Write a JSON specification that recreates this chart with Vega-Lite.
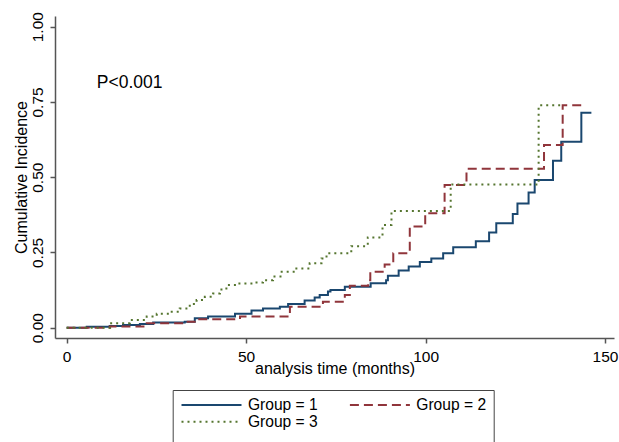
{
  "$schema": "https://vega.github.io/schema/vega-lite/v6.json",
  "width": 559,
  "height": 322,
  "autosize": {"type": "none"},
  "padding": {"left": 55, "top": 16, "right": 5, "bottom": 104},
  "background": "white",
  "config": {
    "view": {"stroke": null},
    "font": "Liberation Sans",
    "axis": {"grid": false, "domainColor": "#555555", "tickColor": "#555555", "domainWidth": 1.5, "tickWidth": 1.5, "labelColor": "black", "titleColor": "black", "labelFont": "Liberation Sans", "titleFont": "Liberation Sans", "titleFontWeight": "normal"}
  },
  "layer": [
    {
      "data": {
        "values": [
          {"g": "Group = 1", "t": 0, "v": 0},
          {"g": "Group = 1", "t": 5.6, "v": 0.003},
          {"g": "Group = 1", "t": 12, "v": 0.006},
          {"g": "Group = 1", "t": 15.7, "v": 0.009},
          {"g": "Group = 1", "t": 20.4, "v": 0.012},
          {"g": "Group = 1", "t": 24.1, "v": 0.017},
          {"g": "Group = 1", "t": 32.9, "v": 0.02},
          {"g": "Group = 1", "t": 35.7, "v": 0.031},
          {"g": "Group = 1", "t": 39.4, "v": 0.037},
          {"g": "Group = 1", "t": 46.9, "v": 0.046},
          {"g": "Group = 1", "t": 51.5, "v": 0.057},
          {"g": "Group = 1", "t": 54.7, "v": 0.064},
          {"g": "Group = 1", "t": 59.4, "v": 0.07},
          {"g": "Group = 1", "t": 61.7, "v": 0.079},
          {"g": "Group = 1", "t": 66.3, "v": 0.09},
          {"g": "Group = 1", "t": 69.1, "v": 0.1},
          {"g": "Group = 1", "t": 70.5, "v": 0.109},
          {"g": "Group = 1", "t": 72.8, "v": 0.12},
          {"g": "Group = 1", "t": 73.5, "v": 0.125},
          {"g": "Group = 1", "t": 77.5, "v": 0.136},
          {"g": "Group = 1", "t": 84.7, "v": 0.148},
          {"g": "Group = 1", "t": 89, "v": 0.158},
          {"g": "Group = 1", "t": 89.5, "v": 0.173},
          {"g": "Group = 1", "t": 92.5, "v": 0.19},
          {"g": "Group = 1", "t": 95.3, "v": 0.203},
          {"g": "Group = 1", "t": 98.4, "v": 0.218},
          {"g": "Group = 1", "t": 101.6, "v": 0.23},
          {"g": "Group = 1", "t": 104.9, "v": 0.247},
          {"g": "Group = 1", "t": 107.7, "v": 0.267},
          {"g": "Group = 1", "t": 114, "v": 0.287},
          {"g": "Group = 1", "t": 117.7, "v": 0.316},
          {"g": "Group = 1", "t": 119.7, "v": 0.347},
          {"g": "Group = 1", "t": 124.3, "v": 0.378},
          {"g": "Group = 1", "t": 125.6, "v": 0.413},
          {"g": "Group = 1", "t": 128.7, "v": 0.449},
          {"g": "Group = 1", "t": 130.4, "v": 0.491},
          {"g": "Group = 1", "t": 135.5, "v": 0.555},
          {"g": "Group = 1", "t": 137.8, "v": 0.618},
          {"g": "Group = 1", "t": 143.4, "v": 0.714},
          {"g": "Group = 1", "t": 146.2, "v": 0.714},
          {"g": "Group = 2", "t": 0, "v": 0},
          {"g": "Group = 2", "t": 12, "v": 0.004},
          {"g": "Group = 2", "t": 22.3, "v": 0.015},
          {"g": "Group = 2", "t": 32.9, "v": 0.02},
          {"g": "Group = 2", "t": 36.2, "v": 0.028},
          {"g": "Group = 2", "t": 48.3, "v": 0.037},
          {"g": "Group = 2", "t": 62.2, "v": 0.07},
          {"g": "Group = 2", "t": 71.4, "v": 0.086},
          {"g": "Group = 2", "t": 77.5, "v": 0.109},
          {"g": "Group = 2", "t": 78.9, "v": 0.139},
          {"g": "Group = 2", "t": 84, "v": 0.158},
          {"g": "Group = 2", "t": 84.6, "v": 0.186},
          {"g": "Group = 2", "t": 88.6, "v": 0.21},
          {"g": "Group = 2", "t": 91, "v": 0.247},
          {"g": "Group = 2", "t": 95.6, "v": 0.336},
          {"g": "Group = 2", "t": 99.9, "v": 0.38},
          {"g": "Group = 2", "t": 105.3, "v": 0.474},
          {"g": "Group = 2", "t": 111.4, "v": 0.528},
          {"g": "Group = 2", "t": 133, "v": 0.607},
          {"g": "Group = 2", "t": 138.2, "v": 0.739},
          {"g": "Group = 2", "t": 143.8, "v": 0.739},
          {"g": "Group = 3", "t": 0, "v": 0},
          {"g": "Group = 3", "t": 12.1, "v": 0.015},
          {"g": "Group = 3", "t": 17.6, "v": 0.026},
          {"g": "Group = 3", "t": 22.3, "v": 0.037},
          {"g": "Group = 3", "t": 25.1, "v": 0.046},
          {"g": "Group = 3", "t": 28.8, "v": 0.053},
          {"g": "Group = 3", "t": 31.5, "v": 0.064},
          {"g": "Group = 3", "t": 34.3, "v": 0.079},
          {"g": "Group = 3", "t": 36.2, "v": 0.092},
          {"g": "Group = 3", "t": 38.5, "v": 0.103},
          {"g": "Group = 3", "t": 40.8, "v": 0.114},
          {"g": "Group = 3", "t": 42.7, "v": 0.127},
          {"g": "Group = 3", "t": 44.5, "v": 0.142},
          {"g": "Group = 3", "t": 47.3, "v": 0.147},
          {"g": "Group = 3", "t": 52, "v": 0.15},
          {"g": "Group = 3", "t": 54.7, "v": 0.158},
          {"g": "Group = 3", "t": 57.5, "v": 0.17},
          {"g": "Group = 3", "t": 59.9, "v": 0.186},
          {"g": "Group = 3", "t": 64, "v": 0.197},
          {"g": "Group = 3", "t": 67.7, "v": 0.214},
          {"g": "Group = 3", "t": 71, "v": 0.23},
          {"g": "Group = 3", "t": 72.4, "v": 0.247},
          {"g": "Group = 3", "t": 79.3, "v": 0.271},
          {"g": "Group = 3", "t": 83.9, "v": 0.3},
          {"g": "Group = 3", "t": 88, "v": 0.341},
          {"g": "Group = 3", "t": 90.5, "v": 0.388},
          {"g": "Group = 3", "t": 107, "v": 0.476},
          {"g": "Group = 3", "t": 131.5, "v": 0.739},
          {"g": "Group = 3", "t": 137.5, "v": 0.739}
        ]
      },
      "mark": {"type": "line", "interpolate": "step-after", "strokeWidth": 2, "strokeCap": "butt"},
      "encoding": {
        "x": {
          "field": "t", "type": "quantitative",
          "scale": {"domain": [-3.25, 152.5], "nice": false, "zero": false},
          "axis": {"values": [0, 50, 100, 150], "title": "analysis time (months)", "labelFontSize": 15.5, "titleFontSize": 16, "tickSize": 5, "labelPadding": 6, "titlePadding": -4, "labelFlush": false}
        },
        "y": {
          "field": "v", "type": "quantitative",
          "scale": {"domain": [-0.0342, 1.0355], "nice": false, "zero": false},
          "axis": {"values": [0, 0.25, 0.5, 0.75, 1], "format": ".2f", "labelAngle": -90, "labelAlign": "center", "labelBaseline": "bottom", "title": "Cumulative Incidence", "labelFontSize": 15.5, "titleFontSize": 16, "tickSize": 5, "labelPadding": 5, "titlePadding": 1, "labelFlush": false}
        },
        "color": {
          "field": "g", "type": "nominal",
          "scale": {"domain": ["Group = 1", "Group = 2", "Group = 3"], "range": ["#1a476f", "#90353b", "#55752f"]},
          "legend": {"title": " ", "titleOrient": "bottom", "titleFontSize": 12, "titlePadding": 4, "orient": "none", "legendX": 117.7, "legendY": 374, "columns": 2, "direction": "horizontal", "symbolType": "M0,0H30", "symbolSize": 16, "symbolOffset": -6, "symbolStrokeWidth": 2, "labelFontSize": 15.6, "labelFont": "Liberation Sans", "labelColor": "black", "labelOffset": 58.6, "columnPadding": 27.4, "rowPadding": 0, "padding": 7, "strokeColor": "#444444", "fillColor": "white"}
        },
        "strokeDash": {
          "field": "g", "type": "nominal",
          "scale": {"domain": ["Group = 1", "Group = 2", "Group = 3"], "range": [[1, 0], [9, 5], [2, 4]]},
          "legend": {"title": " ", "titleOrient": "bottom", "titleFontSize": 12, "titlePadding": 4, "orient": "none", "legendX": 117.7, "legendY": 374, "columns": 2, "direction": "horizontal", "symbolType": "M0,0H30", "symbolSize": 16, "symbolOffset": -6, "symbolStrokeWidth": 2, "labelFontSize": 15.6, "labelFont": "Liberation Sans", "labelColor": "black", "labelOffset": 58.6, "columnPadding": 27.4, "rowPadding": 0, "padding": 7, "strokeColor": "#444444", "fillColor": "white"}
        }
      }
    },
    {
      "data": {"values": [{"t": 8.4, "v": 0.813, "label": "P<0.001"}]},
      "mark": {"type": "text", "align": "left", "baseline": "middle", "fontSize": 17.5, "font": "Liberation Sans", "color": "black"},
      "encoding": {
        "x": {"field": "t", "type": "quantitative"},
        "y": {"field": "v", "type": "quantitative"},
        "text": {"field": "label"}
      }
    }
  ]
}
